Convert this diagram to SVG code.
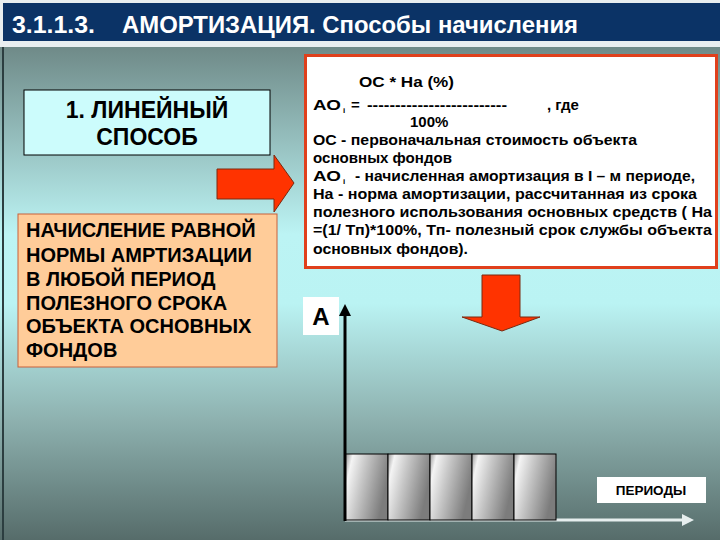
<svg xmlns="http://www.w3.org/2000/svg" width="720" height="540" viewBox="0 0 720 540">
<defs>
<linearGradient id="bg" x1="0" y1="47" x2="0" y2="540" gradientUnits="userSpaceOnUse">
<stop offset="0" stop-color="#6f8a88"/>
<stop offset="0.38" stop-color="#bcf4f4"/>
<stop offset="0.52" stop-color="#baf3f3"/>
<stop offset="0.75" stop-color="#8fb3b1"/>
<stop offset="1" stop-color="#566c6a"/>
</linearGradient>
<linearGradient id="bar" x1="0" y1="0" x2="1" y2="0.35">
<stop offset="0" stop-color="#9a9a9a"/>
<stop offset="0.15" stop-color="#f4f4f4"/>
<stop offset="0.45" stop-color="#c8c8c8"/>
<stop offset="1" stop-color="#7c7c7c"/>
</linearGradient>
<marker id="ahb" markerWidth="4" markerHeight="4" refX="2" refY="2" orient="auto" markerUnits="strokeWidth">
<path d="M0,0 L4,2 L0,4 Z" fill="#000"/>
</marker>
<marker id="ahw" markerWidth="4" markerHeight="4" refX="2" refY="2" orient="auto" markerUnits="strokeWidth">
<path d="M0,0 L4,2 L0,4 Z" fill="#e6eeee"/>
</marker>
<style>
.t{font-family:"Liberation Sans",Arial,sans-serif;font-weight:bold;fill:#000}
.f{font-size:15px}
.h{font-family:"Liberation Sans",Arial,sans-serif;font-weight:bold;font-size:24px;fill:#fff}
.bar{fill:url(#bar);stroke:#000;stroke-width:1}
.red{fill:#ff3300;stroke:#7a2a10;stroke-width:1}
</style>
</defs>
<rect x="0" y="0" width="720" height="540" fill="url(#bg)"/>
<rect x="0" y="0" width="720" height="47" fill="#e8eef0"/>
<rect x="3" y="3" width="717" height="38" fill="#0b3366"/>
<rect x="2" y="47" width="2" height="493" fill="#2c3e40"/>
<text class="h" x="12" y="33" textLength="83" lengthAdjust="spacingAndGlyphs">3.1.1.3.</text>
<text class="h" x="122" y="33" textLength="456" lengthAdjust="spacingAndGlyphs">АМОРТИЗАЦИЯ. Способы начисления</text>

<g id="method">
<rect x="24" y="90" width="246" height="65" fill="#ccfcfc" stroke="#000" stroke-width="1"/>
<text class="t" x="147" y="118" font-size="23" text-anchor="middle">1. ЛИНЕЙНЫЙ</text>
<text class="t" x="147" y="145" font-size="23" text-anchor="middle">СПОСОБ</text>
</g>

<g id="desc">
<rect x="18" y="214" width="259" height="153" fill="#ffcc99" stroke="#c8603a" stroke-width="1"/>
<text class="t" font-size="20">
<tspan x="26" y="237">НАЧИСЛЕНИЕ РАВНОЙ</tspan>
<tspan x="26" y="262">НОРМЫ АМРТИЗАЦИИ</tspan>
<tspan x="26" y="286">В ЛЮБОЙ ПЕРИОД</tspan>
<tspan x="26" y="310">ПОЛЕЗНОГО СРОКА</tspan>
<tspan x="26" y="333">ОБЪЕКТА  ОСНОВНЫХ</tspan>
<tspan x="26" y="357">ФОНДОВ</tspan>
</text>
</g>

<g id="formula">
<rect x="305.5" y="55.5" width="411" height="212" fill="#fff" stroke="#e0401c" stroke-width="3"/>
<text class="t f" x="359" y="87" textLength="95" lengthAdjust="spacingAndGlyphs">ОС * На (%)</text>
<text class="t f" x="313" y="110" textLength="28" lengthAdjust="spacingAndGlyphs">АО</text>
<text class="t" x="343" y="113" font-size="8">i</text>
<text class="t f" x="351" y="110">=</text>
<text class="t f" x="367" y="110" textLength="140" lengthAdjust="spacingAndGlyphs">-------------------------</text>
<text class="t f" x="547" y="110">, где</text>
<text class="t f" x="410" y="127">100%</text>
<text class="t f" x="313" y="145" textLength="324" lengthAdjust="spacingAndGlyphs">ОС  - первоначальная стоимость объекта</text>
<text class="t f" x="313" y="163" textLength="139" lengthAdjust="spacingAndGlyphs">основных фондов</text>
<text class="t f" x="313" y="181" textLength="28" lengthAdjust="spacingAndGlyphs">АО</text>
<text class="t" x="343" y="184" font-size="8">i</text>
<text class="t f" x="355" y="181" textLength="340" lengthAdjust="spacingAndGlyphs">- начисленная амортизация в I – м периоде,</text>
<text class="t f" x="313" y="199" textLength="384" lengthAdjust="spacingAndGlyphs">На   - норма амортизации, рассчитанная из срока</text>
<text class="t f" x="313" y="217" textLength="399" lengthAdjust="spacingAndGlyphs">полезного использования основных средств ( На</text>
<text class="t f" x="313" y="235" textLength="399" lengthAdjust="spacingAndGlyphs">=(1/ Тп)*100%, Тп- полезный срок службы объекта</text>
<text class="t f" x="313" y="254" textLength="155" lengthAdjust="spacingAndGlyphs">основных фондов).</text>
</g>

<g id="connectors">
<path class="red" d="M217,169 H274 V155 L294,183 L274,212 V199 H217 Z"/>
<path class="red" d="M482,275 H520 V317 H540 L502,331 L462,317 H482 Z"/>
<line x1="345" y1="520" x2="688" y2="520" stroke="#e6eeee" stroke-width="3" marker-end="url(#ahw)"/>
<line x1="345" y1="521" x2="345" y2="310" stroke="#000" stroke-width="3" marker-end="url(#ahb)"/>
</g>

<g id="bars">
<rect class="bar" x="346" y="454" width="42" height="66"/>
<rect class="bar" x="388" y="454" width="42" height="66"/>
<rect class="bar" x="430" y="454" width="42" height="66"/>
<rect class="bar" x="472" y="454" width="42" height="66"/>
<rect class="bar" x="514" y="454" width="42" height="66"/>
</g>

<g id="label-a">
<rect x="303" y="297" width="36" height="38" fill="#fff"/>
<text class="t" x="321" y="325" font-size="24" text-anchor="middle">А</text>
</g>

<g id="label-periods">
<rect x="597" y="477" width="109" height="26" fill="#fff"/>
<text class="t" x="651" y="495" font-size="13.5" text-anchor="middle">ПЕРИОДЫ</text>
</g>
</svg>
